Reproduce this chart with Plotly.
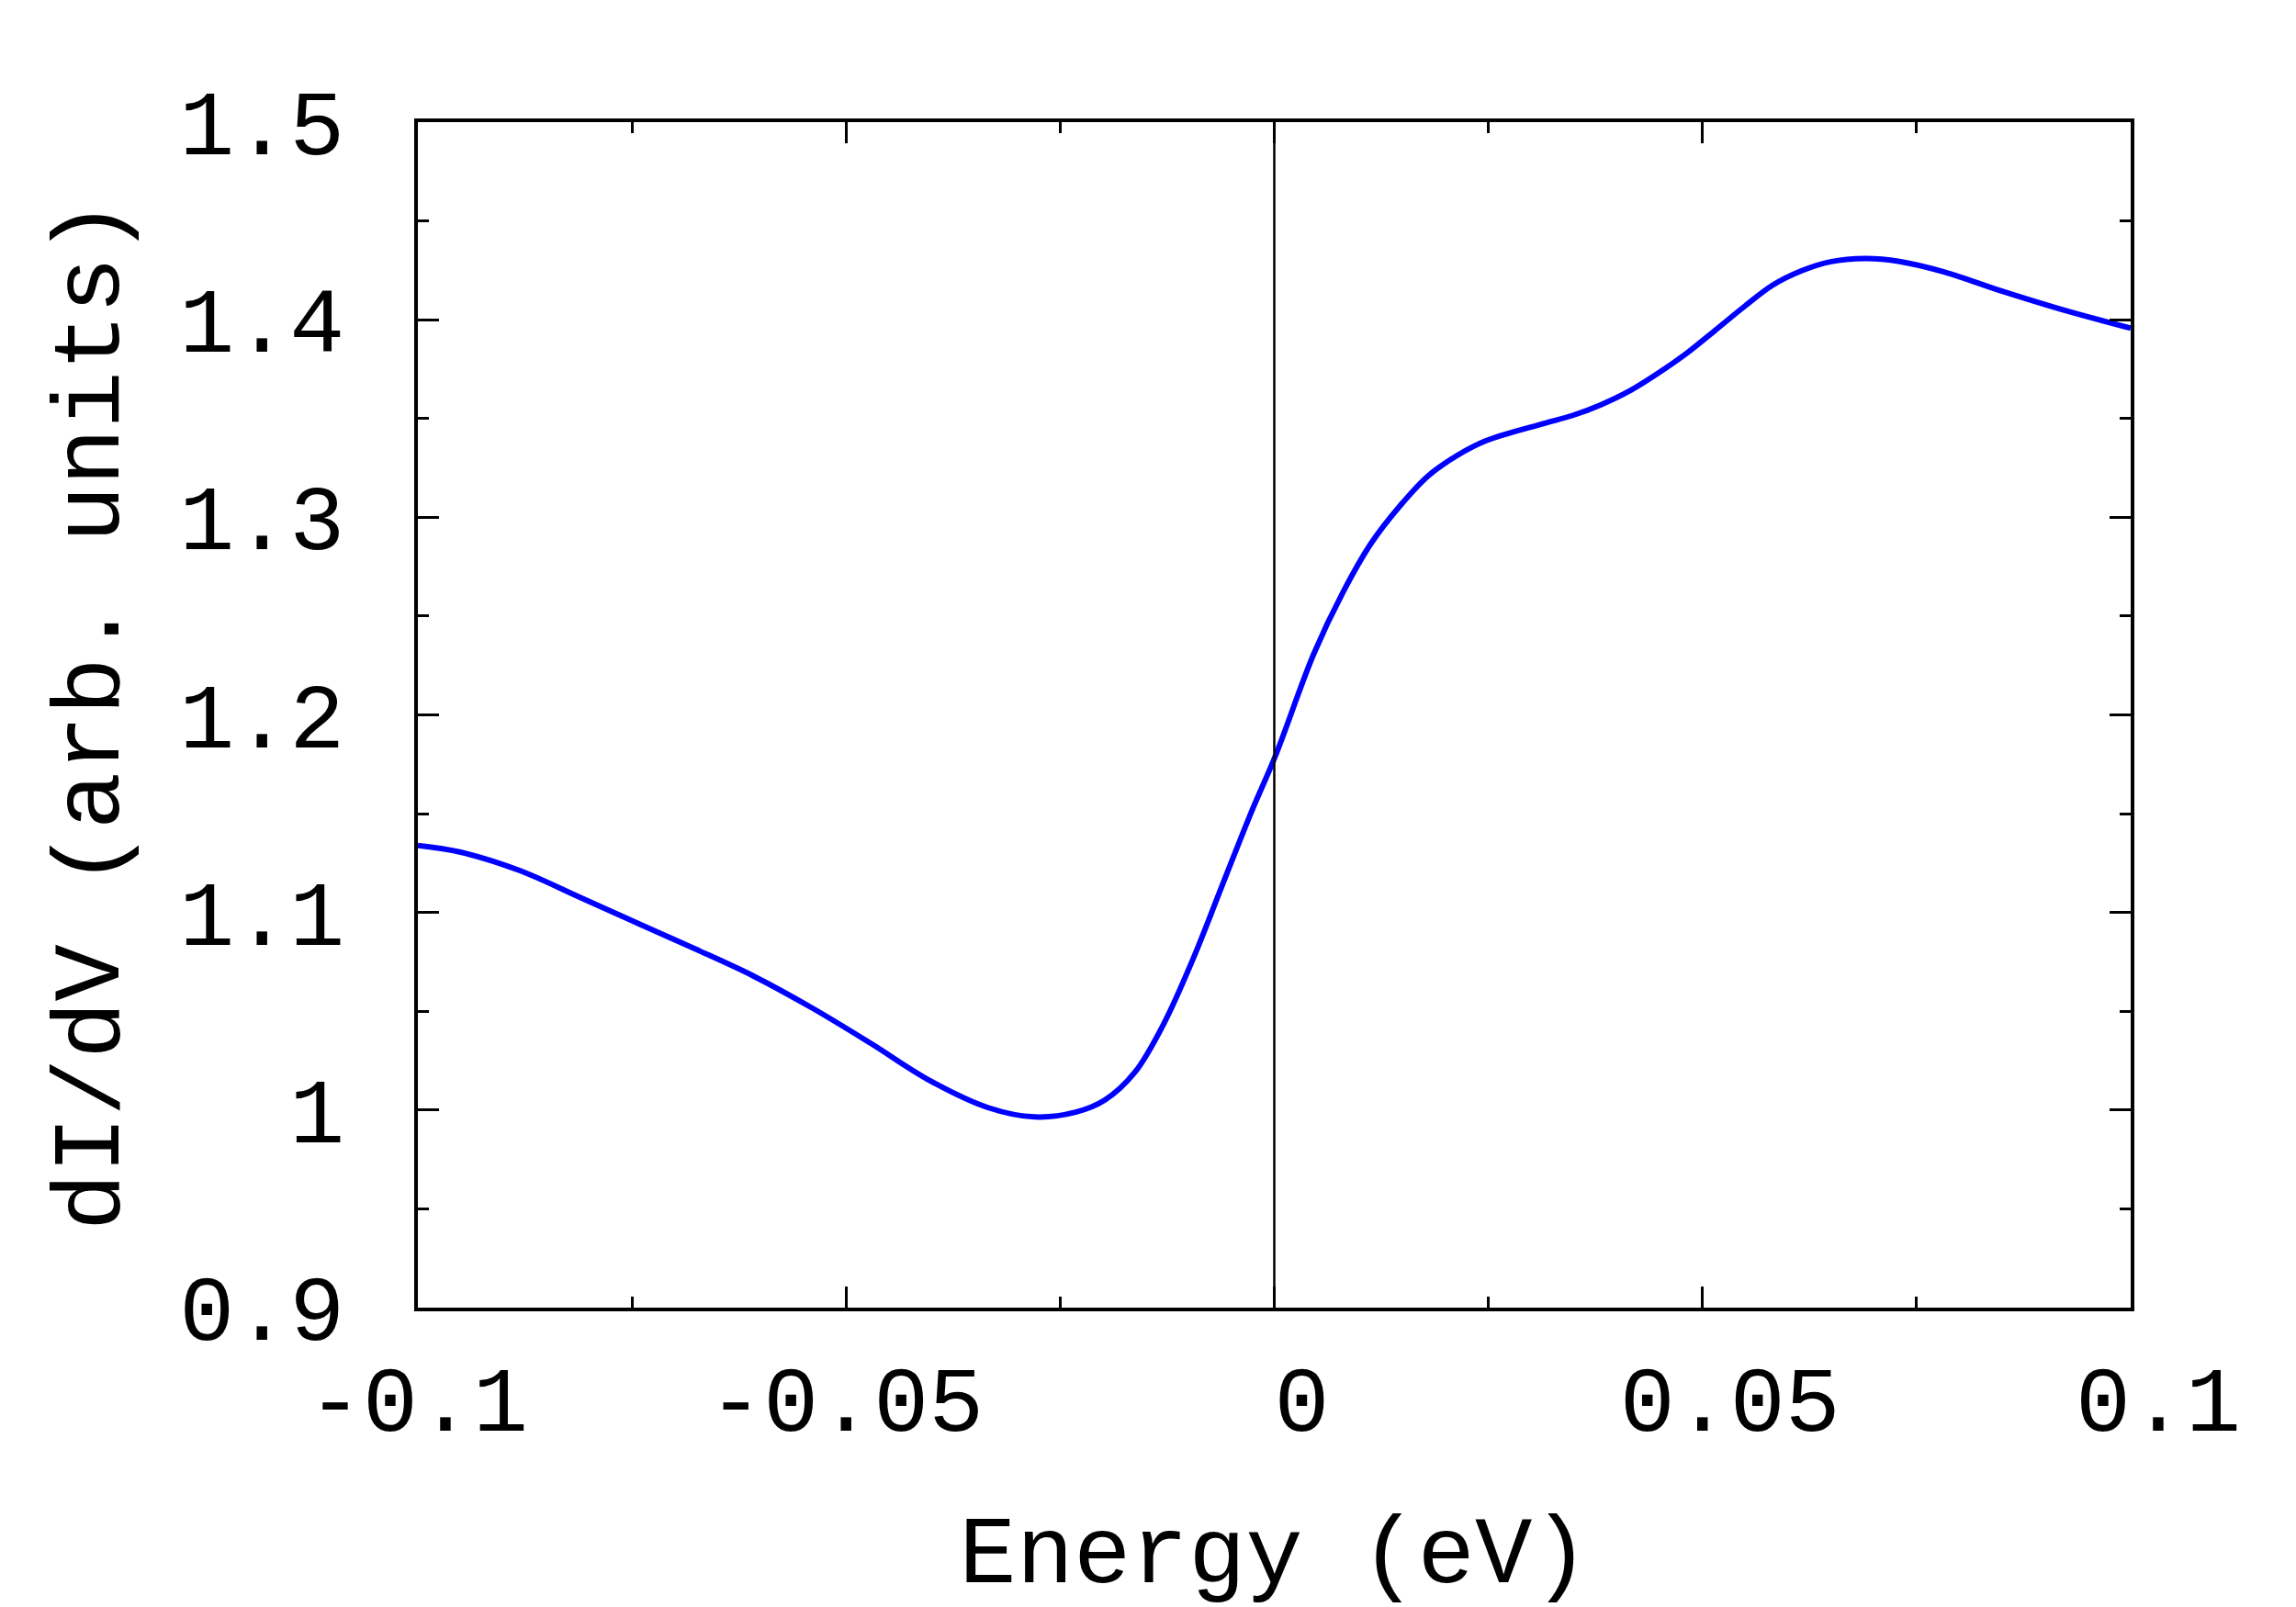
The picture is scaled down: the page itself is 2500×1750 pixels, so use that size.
import plotly.graph_objects as go

energy = [-0.1, -0.095, -0.0881, -0.0813, -0.0745, -0.0677, -0.0608, -0.0539, -0.0471, -0.0403,
          -0.0334, -0.028, -0.0232, -0.0198, -0.0163, -0.0129, -0.0095, -0.0061, -0.0027, 0.0001,
          0.0046, 0.008, 0.0113, 0.0146, 0.018, 0.0214, 0.0247, 0.0314, 0.0348, 0.0381,
          0.0415, 0.0448, 0.0482, 0.0515, 0.0549, 0.0582, 0.0616, 0.0649, 0.069, 0.073,
          0.0783, 0.085, 0.0917, 0.1]
didv = [1.1339, 1.1305, 1.1212, 1.1081, 1.0949, 1.0817, 1.0678, 1.0515, 1.0337, 1.0151,
        1.0012, 0.9965, 0.9989, 1.0050, 1.0190, 1.0437, 1.0763, 1.1135, 1.1506, 1.1789,
        1.2308, 1.2619, 1.2868, 1.3054, 1.3211, 1.3314, 1.3387, 1.3474, 1.3515, 1.3569,
        1.3640, 1.3729, 1.3832, 1.3947, 1.4067, 1.4175, 1.4248, 1.4293, 1.4310, 1.4295,
        1.4241, 1.4144, 1.4055, 1.3957]

x_tickvals = [-0.1, -0.05, 0, 0.05, 0.1]
x_ticktext = ["-0.1", "-0.05", "\u00a00", "\u00a00.05", "\u00a00.1"]
x_minor = [-0.075, -0.025, 0.025, 0.075]
y_tickvals = [0.9, 1.0, 1.1, 1.2, 1.3, 1.4, 1.5]
y_ticktext = ["0.9", "1", "1.1", "1.2", "1.3", "1.4", "1.5"]
y_minor = [0.95, 1.05, 1.15, 1.25, 1.35, 1.45]

tick_font = dict(family="Liberation Mono, DejaVu Sans Mono, monospace", size=100, color="black")
title_font = dict(family="Courier New, Liberation Mono, monospace", size=104, color="black")

fig = go.Figure()
fig.add_trace(go.Scatter(x=energy, y=didv, mode="lines",
                         line=dict(color="#0000ff", width=6, shape="spline", smoothing=1.0),
                         showlegend=False))

fig.add_shape(type="line", x0=0, x1=0, y0=0, y1=1, xref="x", yref="paper",
              line=dict(color="black", width=2.5))

fig.update_layout(
    width=2500, height=1750,
    margin=dict(l=447, r=188, t=125, b=334),
    paper_bgcolor="white", plot_bgcolor="white",
)
fig.update_xaxes(
    range=[-0.1, 0.1], tickmode="array", tickvals=x_tickvals, ticktext=x_ticktext,
    ticks="inside", ticklen=23, tickwidth=3, tickcolor="black",
    minor=dict(ticks="inside", tickvals=x_minor, ticklen=12, tickwidth=3, tickcolor="black"),
    showline=True, linewidth=3.5, linecolor="black", mirror="ticks",
    showgrid=False, zeroline=False, tickfont=tick_font, ticklabelstandoff=10,
    title=dict(text="Energy (eV)", font=title_font, standoff=64),
)
fig.update_yaxes(
    range=[0.9, 1.5], tickmode="array", tickvals=y_tickvals, ticktext=y_ticktext,
    ticks="inside", ticklen=23, tickwidth=3, tickcolor="black",
    minor=dict(ticks="inside", tickvals=y_minor, ticklen=12, tickwidth=3, tickcolor="black"),
    showline=True, linewidth=3.5, linecolor="black", mirror="ticks",
    showgrid=False, zeroline=False, tickfont=tick_font, ticklabelstandoff=56,
    title=dict(text="dI/dV (arb. units)", font=title_font, standoff=32),
)

fig.write_html("out.html")
